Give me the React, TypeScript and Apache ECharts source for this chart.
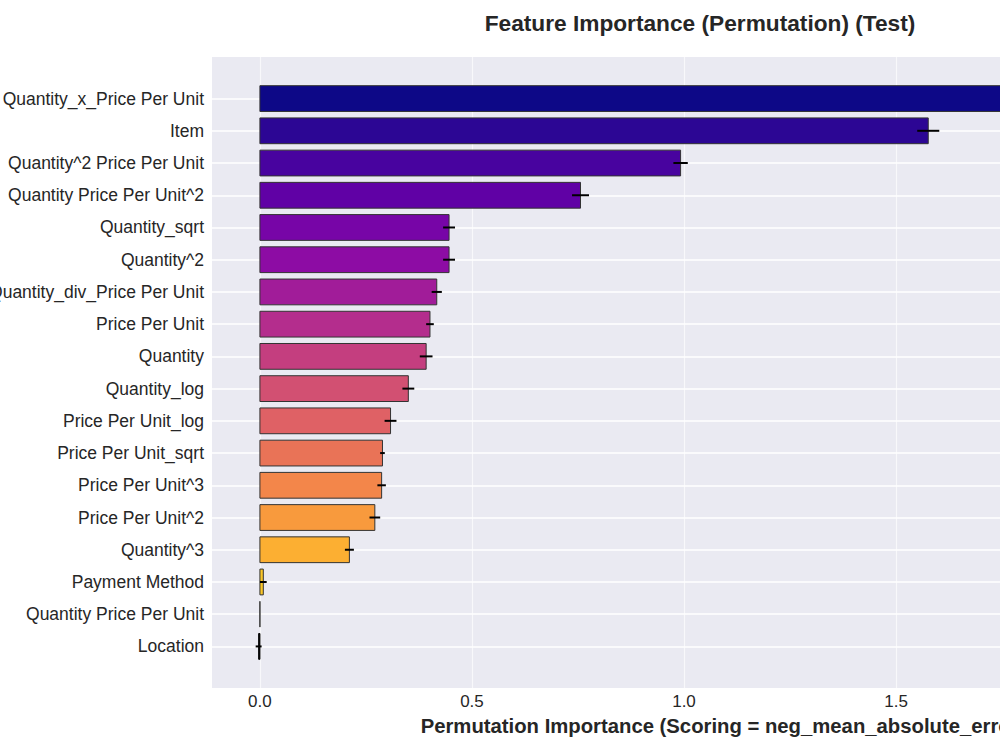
import React, { useEffect, useRef } from "react";
import * as echarts from "echarts";

// Permutation importance per feature (test set), sorted descending
const features = [
  "Quantity_x_Price Per Unit",
  "Item",
  "Quantity^2 Price Per Unit",
  "Quantity Price Per Unit^2",
  "Quantity_sqrt",
  "Quantity^2",
  "Quantity_div_Price Per Unit",
  "Price Per Unit",
  "Quantity",
  "Quantity_log",
  "Price Per Unit_log",
  "Price Per Unit_sqrt",
  "Price Per Unit^3",
  "Price Per Unit^2",
  "Quantity^3",
  "Payment Method",
  "Quantity Price Per Unit",
  "Location",
];
const importanceMean = [
  2.16, 1.576, 0.992, 0.756, 0.446, 0.446, 0.417, 0.401, 0.392, 0.35, 0.308,
  0.289, 0.287, 0.271, 0.211, 0.008, 0, -0.003,
];
const importanceStd = [
  0.025, 0.026, 0.017, 0.02, 0.014, 0.014, 0.012, 0.009, 0.015, 0.014, 0.014,
  0.0055, 0.01, 0.0126, 0.0106, 0.008, 0, 0.007,
];
// plasma colormap sampled evenly over the features
const barColors = [
  "#0d0887", "#2c0694", "#48039f", "#6001a5", "#7705a7", "#8d0ca4",
  "#a11c99", "#b42d8d", "#c43e7f", "#d25072", "#df6165", "#e97357",
  "#f3864a", "#f89a3d", "#fcaf32", "#fcc728", "#f7e023", "#f0f921",
];
const xTicks = [0, 0.5, 1.0, 1.5];
const rowIndex = features.map((_, i) => i);

const FONT = "Liberation Sans, Arial, sans-serif";
const TEXT = "#262626";

export default function App() {
  const ref = useRef<HTMLDivElement>(null);

  useEffect(() => {
    if (!ref.current) return;
    const chart = echarts.init(ref.current, undefined, { renderer: "svg" });

    const data = features.map((name, i) => [
      importanceMean[i],
      i,
      importanceStd[i],
    ]);

    chart.setOption({
      animation: false,
      backgroundColor: "#ffffff",
      graphic: [
        {
          type: "text",
          x: 700,
          y: 23,
          style: {
            text: "Feature Importance (Permutation) (Test)",
            fontFamily: FONT,
            fontWeight: "bold",
            fontSize: 22.7,
            fill: TEXT,
            textAlign: "center",
            textVerticalAlign: "middle",
          },
        },
      ],
      grid: {
        left: 212,
        top: 57,
        height: 631,
        width: 1022,
        containLabel: false,
        outerBoundsMode: "none",
        show: true,
        backgroundColor: "#eaeaf2",
        borderWidth: 0,
      },
      xAxis: {
        type: "value",
        min: -0.113,
        max: 2.297,
        axisLine: { show: false },
        axisTick: { show: false, customValues: xTicks },
        axisLabel: {
          customValues: xTicks,
          formatter: (v: number) => v.toFixed(1),
          fontFamily: FONT,
          fontSize: 17,
          color: TEXT,
          margin: 5,
        },
        splitLine: {
          show: true,
          lineStyle: { color: "rgba(255,255,255,0.65)", width: 1.2 },
        },
        name: "Permutation Importance (Scoring = neg_mean_absolute_error)",
        nameLocation: "middle",
        nameGap: 28,
        nameTextStyle: {
          fontFamily: FONT,
          fontWeight: "bold",
          fontSize: 20.3,
          color: TEXT,
        },
      },
      yAxis: {
        type: "value",
        inverse: true,
        min: -1.29,
        max: 18.29,
        axisLine: { show: false },
        axisTick: { show: false, customValues: rowIndex },
        axisLabel: {
          customValues: rowIndex,
          formatter: (v: number) => features[Math.round(v)] ?? "",
          fontFamily: FONT,
          fontSize: 17.5,
          color: TEXT,
          margin: 8,
        },
        splitLine: {
          show: true,
          lineStyle: { color: "#ffffff", width: 1.5 },
        },
      },
      series: [
        {
          type: "custom",
          data,
          encode: { x: 0, y: 1 },
          clip: false,
          renderItem: (params: any, api: any) => {
            const v = api.value(0);
            const row = api.value(1);
            const err = api.value(2);
            const idx = params.dataIndex;
            const p0 = api.coord([0, row - 0.4]);
            const p1 = api.coord([v, row + 0.4]);
            const c = api.coord([v, row]);
            const e0 = api.coord([v - err, row]);
            const e1 = api.coord([v + err, row]);
            const x = Math.min(p0[0], p1[0]);
            const w = Math.abs(p1[0] - p0[0]);
            const y = Math.min(p0[1], p1[1]);
            const h = Math.abs(p1[1] - p0[1]);
            return {
              type: "group",
              children: [
                {
                  type: "rect",
                  shape: { x, y, width: w, height: h },
                  style: {
                    fill: v < 0 ? "#000000" : barColors[idx],
                    stroke: v < 0 ? "#000000" : "#333333",
                    lineWidth: 1,
                  },
                },
                {
                  type: "line",
                  shape: { x1: e0[0], y1: c[1], x2: e1[0], y2: c[1] },
                  style: { stroke: "#000000", lineWidth: 2 },
                },
              ],
            };
          },
        },
      ],
    });

    return () => chart.dispose();
  }, []);

  return (
    <div
      style={{
        position: "fixed",
        left: 0,
        top: 0,
        width: 1000,
        height: 750,
        overflow: "hidden",
        background: "#ffffff",
      }}
    >
      <div ref={ref} style={{ width: 1300, height: 750 }} />
    </div>
  );
}
